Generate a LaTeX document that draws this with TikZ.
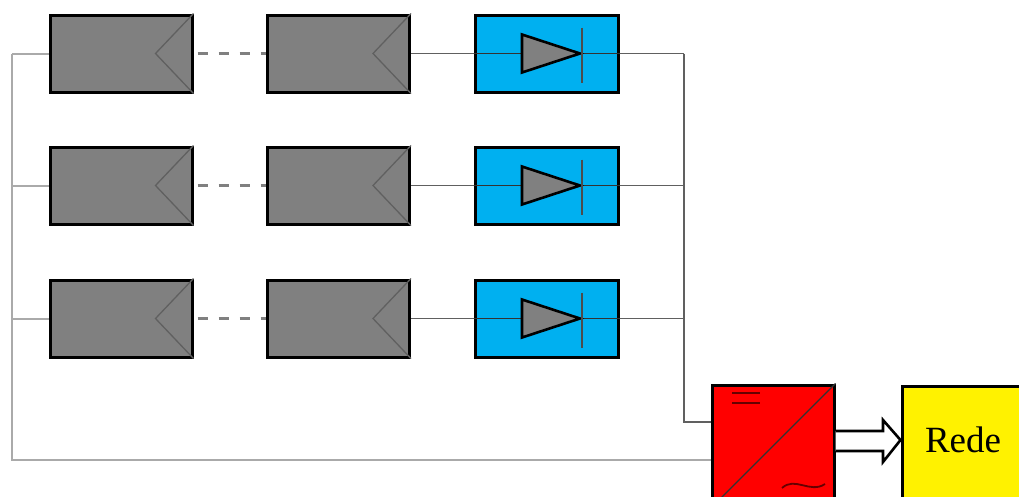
\documentclass[tikz,border=0pt]{standalone}
\usepackage{fontspec}
\setmainfont{Liberation Serif}
\definecolor{paneel}{HTML}{808080}
\definecolor{diodo}{HTML}{00B0F0}
\definecolor{fio}{HTML}{AAAAAA}
\definecolor{fioesc}{HTML}{606060}
\tikzset{
  painel/.style={draw=black,fill=paneel,line width=3pt,minimum width=142pt,minimum height=77pt,inner sep=0pt},
  caixadiodo/.style={draw=black,fill=diodo,line width=3pt,minimum width=143pt,minimum height=77pt,inner sep=0pt},
  inversor/.style={draw=black,fill=red,line width=3pt,minimum width=122pt,minimum height=122pt,inner sep=0pt},
  rede/.style={draw=black,fill=yellow,line width=3pt,minimum width=122pt,minimum height=122pt,inner sep=0pt},
  fiacao/.style={draw=fio,line width=2pt},
  fiacaoesc/.style={draw=fioesc,line width=1.6pt}
}
\begin{document}
\begin{tikzpicture}[x=1pt,y=-1pt]
   \useasboundingbox (0,0) rectangle (1019,496);
   % fileiras de paineis
   \foreach \i/\y in {1/53.5,2/185.5,3/318.5}{
     \node[painel] (pa\i) at (121,\y) {};
     \node[painel] (pb\i) at (338.5,\y) {};
     \node[caixadiodo] (d\i) at (546.5,\y) {};
     \draw[fioesc,line width=1.3pt] (pa\i.north east) -- ([xshift=-38pt]pa\i.east) -- (pa\i.south east);
     \draw[fioesc,line width=1.3pt] (pb\i.north east) -- ([xshift=-38pt]pb\i.east) -- (pb\i.south east);
     \draw[draw=paneel,line width=2.5pt,dash pattern=on 10pt off 11pt,dash phase=-4pt] (pa\i.east) -- (pb\i.west);
     \draw[fioesc] (pb\i.east) -- (d\i.west);
     \draw[black!80,line width=1.4pt] (d\i.west) -- (d\i.east);
     \draw[black,line width=2.6pt,fill=paneel] ([xshift=-24.5pt,yshift=19pt]d\i.center) -- ([xshift=33.5pt]d\i.center) -- ([xshift=-24.5pt,yshift=-19pt]d\i.center) -- cycle;
     \draw[black!70,line width=1.2pt] ([xshift=35.5pt,yshift=26pt]d\i.center) -- ([xshift=35.5pt,yshift=-29pt]d\i.center);
     \draw[fioesc] (d\i.east) -- (684,\y);
     \draw[fiacao] (pa\i.west) -- (12,\y);
   }
   \node[inversor] (inv) at (773,446) {};
   \node[rede] (grid) at (963,447) {};
   \node[font=\fontsize{37}{37}\selectfont] (txt) at (963,440) {Rede};
   \draw[black!80,line width=1.3pt] (inv.north east) -- (inv.south west);
   \draw[black!60!red,line width=1.8pt] (732,393) -- (760,393) (732,403) -- (760,403);
   \draw[black!60!red,line width=1.8pt] (782,488) .. controls (795,476) and (810,494) .. (825,484);
   % ligacoes
   \coordinate (c1) at (12,53.5);
   \coordinate (c2) at (12,460);
   \coordinate (c3) at (684,53.5);
   \coordinate (c4) at (684,422);
   \draw[fiacao] (c1) -- (c2) -- (c2 -| inv.west);
   \draw[fiacaoesc] (c3) -- (c4) -- (c4 -| inv.west);
   % seta dupla
   \draw[black,line width=2.6pt,fill=white,line join=miter] (inv.east |- 0,431) -- (883,431) -- (883,420) -- (grid.west |- 0,440)
     -- (883,462) -- (883,451) -- (inv.east |- 0,451);
\end{tikzpicture}
\end{document}
